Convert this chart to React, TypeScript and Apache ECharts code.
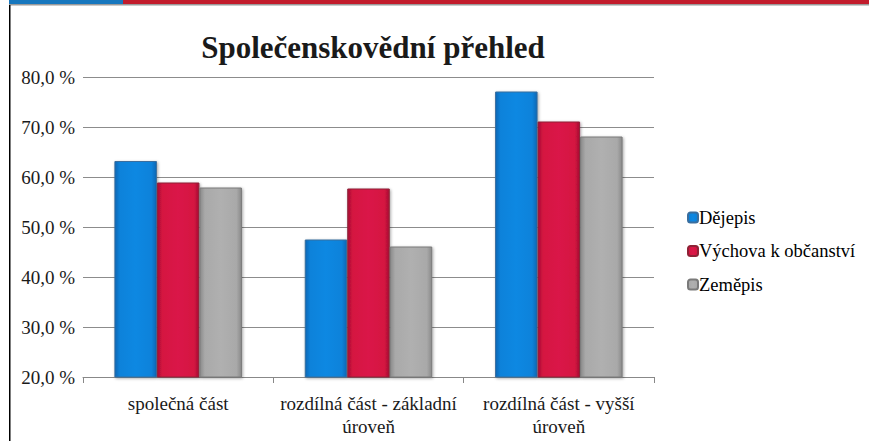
import React, { useEffect, useRef } from "react";
import * as echarts from "echarts";

const categories = ["společná část", "rozdílná část - základní úroveň", "rozdílná část - vyšší úroveň"];
const dejepis = [63.2, 47.5, 77.1];
const vychova = [58.9, 57.7, 71.1];
const zemepis = [57.9, 46.1, 68.1];
const seriesNames = ["Dějepis", "Výchova k občanství", "Zeměpis"];
const yTicks = { min: 20, max: 80, interval: 10 };

const FONT = "Liberation Serif";

function grad(edge: string, mid: string, light: string) {
  return new echarts.graphic.LinearGradient(0, 0, 1, 0, [
    { offset: 0, color: edge },
    { offset: 0.12, color: mid },
    { offset: 0.5, color: light },
    { offset: 0.88, color: mid },
    { offset: 1, color: edge },
  ]);
}

export default function App() {
  const ref = useRef<HTMLDivElement>(null);
  useEffect(() => {
    const chart = echarts.init(ref.current!, null, { renderer: "svg" });
    const mk = (name: string, data: number[], fill: any, border: string) => ({
      name,
      type: "bar",
      data,
      barGap: "0%",
      barCategoryGap: "33%",
      itemStyle: {
        color: fill,
        borderColor: border,
        borderWidth: 1,
        shadowColor: "rgba(0,0,0,0.35)",
        shadowBlur: 3,
        shadowOffsetX: 1,
        shadowOffsetY: 1,
      },
    });
    chart.setOption({
      animation: false,
      backgroundColor: "#ffffff",
      textStyle: { fontFamily: FONT },
      title: {
        text: "Společenskovědní přehled",
        left: 368,
        textAlign: "center",
        top: 27,
        textStyle: { fontFamily: FONT, fontSize: 31, fontWeight: "bold", color: "#1a1a1a" },
      },
      graphic: [
        { type: "rect", shape: { x: 9, y: 0, width: 114, height: 4 }, style: { fill: "#1777BE" } },
        { type: "rect", shape: { x: 123, y: 0, width: 746, height: 4 }, style: { fill: "#C21C2C" } },
        { type: "rect", shape: { x: 9, y: 4, width: 860, height: 1.5 }, style: { fill: "#9a9a9a" } },
        { type: "rect", shape: { x: 9, y: 5, width: 1.5, height: 436 }, style: { fill: "#000" } },
      ],
      legend: {
        orient: "vertical",
        left: 682,
        top: 203,
        itemWidth: 10,
        itemHeight: 10,
        itemGap: 14.5,
        data: seriesNames,
        textStyle: { fontFamily: FONT, fontSize: 18.5, fontWeight: "normal", color: "#000", padding: [0, 0, 0, -4] },
      },
      grid: { left: 83, right: 215, top: 77, bottom: 64 },
      xAxis: {
        type: "category",
        data: categories,
        axisLine: { lineStyle: { color: "#888", width: 1 } },
        axisTick: { show: true, length: 6, lineStyle: { color: "#888" } },
        axisLabel: {
          interval: 0,
          fontFamily: FONT,
          fontWeight: "normal",
          fontSize: 19,
          color: "#1a1a1a",
          margin: 15,
          lineHeight: 23,
          formatter: (v: string) => v.replace(" úroveň", "\núroveň"),
        },
      },
      yAxis: {
        type: "value",
        min: yTicks.min,
        max: yTicks.max,
        interval: yTicks.interval,
        axisLine: { show: false },
        axisTick: { show: false },
        splitLine: { lineStyle: { color: "#8c8c8c", width: 1 } },
        axisLabel: {
          fontFamily: FONT,
          fontWeight: "normal",
          fontSize: 19,
          color: "#1a1a1a",
          margin: 8,
          formatter: (v: number) => v.toFixed(1).replace(".", ",") + " %",
        },
      },
      series: [
        mk(seriesNames[0], dejepis, grad("#0767B5", "#0B82DA", "#0E88E2"), "#3A6E9E"),
        mk(seriesNames[1], vychova, grad("#A80E33", "#D51441", "#DA1848"), "#8E2236"),
        mk(seriesNames[2], zemepis, grad("#8A8A8A", "#A9A9A9", "#B0B0B0"), "#7A7A7A"),
      ],
    });
    return () => chart.dispose();
  }, []);
  return (
    <div
      ref={ref}
      style={{ position: "fixed", left: 0, top: 0, width: 869, height: 441 }}
    />
  );
}
